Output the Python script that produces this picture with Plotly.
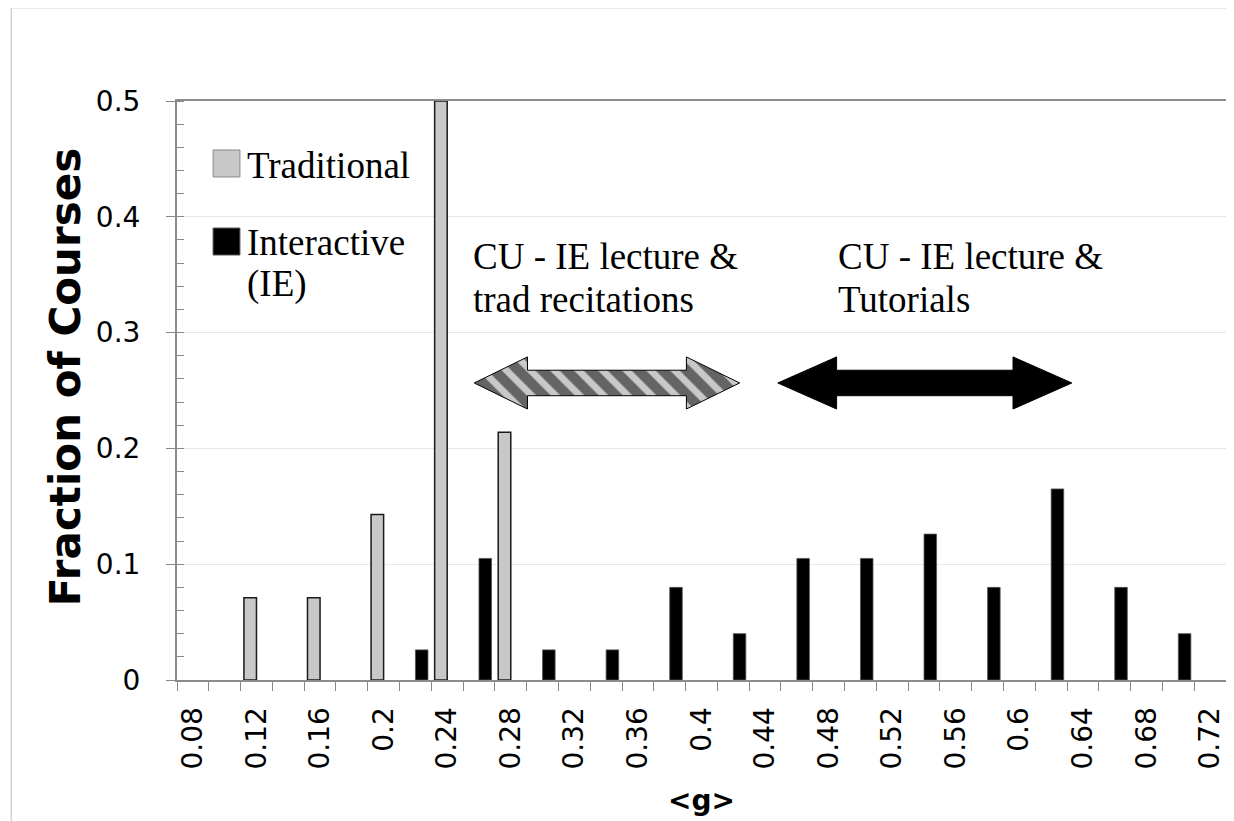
import plotly.graph_objects as go

# data
trad_g = [0.12, 0.16, 0.20, 0.24, 0.28]
trad_frac = [0.071, 0.071, 0.143, 0.5, 0.214]
ie_g = [0.22, 0.26, 0.30, 0.34, 0.38, 0.42, 0.46, 0.50, 0.54, 0.58, 0.62, 0.66, 0.70]
ie_frac = [0.026, 0.105, 0.026, 0.026, 0.080, 0.040, 0.105, 0.105, 0.126, 0.080, 0.165, 0.080, 0.040]
tick_vals = [0.08, 0.12, 0.16, 0.20, 0.24, 0.28, 0.32, 0.36, 0.40, 0.44, 0.48,
             0.52, 0.56, 0.60, 0.64, 0.68, 0.72]
tick_text = ['0.08', '0.12', '0.16', '0.2', '0.24', '0.28', '0.32', '0.36', '0.4',
             '0.44', '0.48', '0.52', '0.56', '0.6', '0.64', '0.68', '0.72']

gray = '#c8c8c8'
sans = 'DejaVu Sans'
serif = 'Liberation Serif'
bw = 0.0079  # width of one bar in <g> units


def double_arrow(x0, x1, head, yc, hh, sh):
    xs = [x0, x0 + head, x0 + head, x1 - head, x1 - head, x1,
          x1 - head, x1 - head, x0 + head, x0 + head, x0]
    ys = [yc, yc + hh, yc + sh, yc + sh, yc + hh, yc,
          yc - hh, yc - sh, yc - sh, yc - hh, yc]
    return xs, ys


fig = go.Figure()
fig.add_trace(go.Bar(x=trad_g, y=trad_frac, name='Traditional', width=bw, offset=-bw,
                     marker=dict(color=gray, line=dict(color='#1a1a1a', width=1.5))))
fig.add_trace(go.Bar(x=ie_g, y=ie_frac, name='Interactive (IE)', width=bw, offset=0,
                     marker=dict(color='black', line=dict(color='#555555', width=0.8))))

# arrows
ax, ay = double_arrow(0.257, 0.424, 0.0335, 0.2565, 0.0225, 0.011)
fig.add_trace(go.Scatter(x=ax, y=ay, mode='lines', fill='toself', hoverinfo='skip',
                         line=dict(color='black', width=1),
                         fillpattern=dict(shape='\\', fgcolor='black', bgcolor=gray,
                                          size=17, solidity=0.6),
                         showlegend=False))
bx, by = double_arrow(0.448, 0.633, 0.037, 0.2565, 0.0225, 0.011)
fig.add_trace(go.Scatter(x=bx, y=by, mode='lines', fill='toself', fillcolor='black',
                         hoverinfo='skip', line=dict(color='black', width=1),
                         showlegend=False))

# hand-made legend
shapes = [
    dict(type='rect', xref='x', yref='y', x0=0.0927, x1=0.1096, y0=0.4344, y1=0.4577,
         fillcolor=gray, line=dict(color='#888888', width=1)),
    dict(type='rect', xref='x', yref='y', x0=0.0927, x1=0.1096, y0=0.367, y1=0.3903,
         fillcolor='black', line=dict(color='#555555', width=1)),
    dict(type='rect', xref='paper', yref='paper', x0=-0.158, x1=1.2, y0=-0.5, y1=1.161,
         line=dict(color='#d4d4d4', width=1.5), layer='below'),
]

annotations = [
    dict(x=0.1125, y=0.4447, text='Traditional'),
    dict(x=0.1125, y=0.3775, text='Interactive'),
    dict(x=0.1125, y=0.342, text='(IE)'),
    dict(x=0.2548, y=0.3653, text='CU - IE lecture &amp;'),
    dict(x=0.2548, y=0.3282, text='trad recitations'),
    dict(x=0.4845, y=0.3653, text='CU - IE lecture &amp;'),
    dict(x=0.4845, y=0.3282, text='Tutorials'),
]
for a in annotations:
    a.update(xref='x', yref='y', xanchor='left', yanchor='middle', showarrow=False,
             font=dict(family=serif, size=37, color='black'))

# y-axis title placed by hand (sits a bit above the plot middle in the original)
annotations.append(dict(xref='paper', yref='paper', x=-0.1068, y=0.523,
                        xanchor='center', yanchor='middle', textangle=-90,
                        showarrow=False, text='<b>Fraction of Courses</b>',
                        font=dict(family=sans, size=42, color='black')))

fig.update_layout(
    barmode='overlay',
    width=1234, height=821,
    margin=dict(l=169, r=16, t=93, b=149),
    paper_bgcolor='white', plot_bgcolor='white',
    showlegend=False,
    shapes=shapes, annotations=annotations,
    xaxis=dict(range=[0.07, 0.73], tickvals=tick_vals, ticktext=tick_text,
               tickangle=-90, ticks='', showgrid=False, zeroline=False,
               ticklabelstandoff=14,
               tickfont=dict(family=sans, size=28, color='black'),
               minor=dict(tick0=0.07, dtick=0.02, ticks='outside', ticklen=9,
                          tickcolor='#888888', showgrid=False),
               showline=True, linecolor='#8c8c8c', linewidth=2, mirror=True,
               title=dict(text='<b>&lt;g&gt;</b>', font=dict(family=sans, size=28, color='black'),
                          standoff=22)),
    yaxis=dict(range=[0, 0.5], dtick=0.1, tickformat='.1~f', ticks='outside', ticklen=9,
               tickcolor='#888888', showgrid=True, gridcolor='#e8e8e8', gridwidth=1,
               zeroline=False, ticklabelstandoff=20,
               tickfont=dict(family=sans, size=28, color='black'),
               minor=dict(dtick=0.02, ticks='inside', ticklen=7, tickcolor='#888888',
                          showgrid=False),
               showline=True, linecolor='#8c8c8c', linewidth=2, mirror=True),
)

fig.write_html("out.html")
